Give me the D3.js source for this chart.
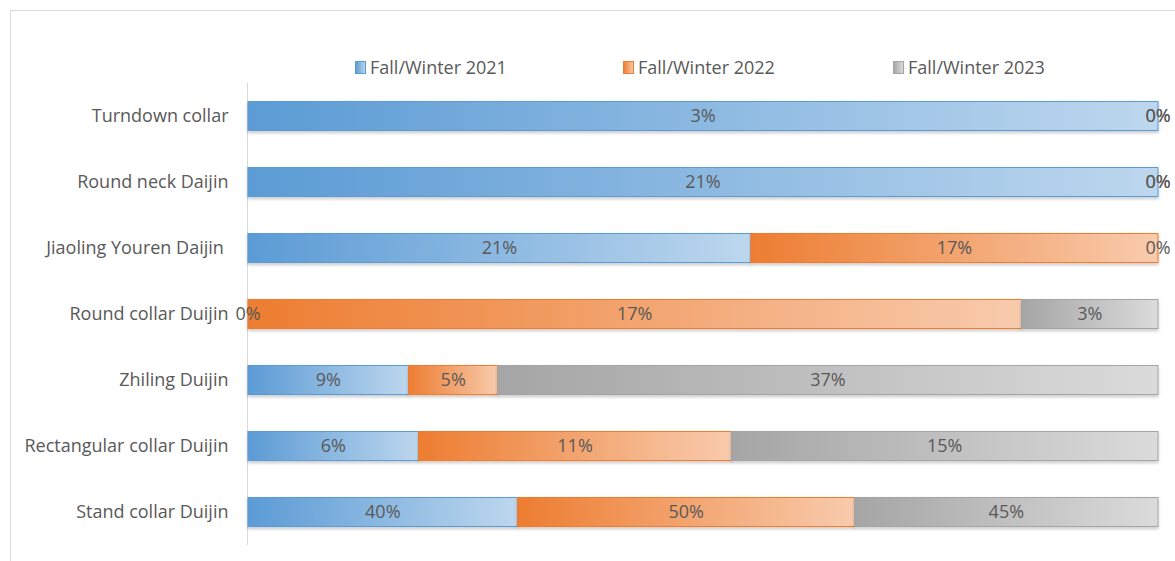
<!DOCTYPE html>
<html><head><meta charset="utf-8">
<script src="https://cdn.jsdelivr.net/npm/d3@7"></script>
<style>
html,body{margin:0;padding:0;background:#fff;}
text{font-family:"Open Sans","Noto Sans",sans-serif;}
</style></head>
<body><svg id="chart" width="1175" height="561"></svg>
<script>
const categories = ["Turndown collar","Round neck Daijin","Jiaoling Youren Daijin ","Round collar Duijin","Zhiling Duijin","Rectangular collar Duijin","Stand collar Duijin"];
const seriesNames = ["Fall/Winter 2021","Fall/Winter 2022","Fall/Winter 2023"];
const fw2021 = [3,21,21,0,9,6,40];
const fw2022 = [0,0,17,17,5,11,50];
const fw2023 = [0,0,0,3,37,15,45];
const seriesValues = [fw2021, fw2022, fw2023];
const colorsDark = ["#5B9BD5","#ED7D31","#A5A5A5"];
const colorsLight = ["#BDD7EE","#F8CBAD","#DBDBDB"];

const svg = d3.select("#chart");
const W = 1175, H = 561;
const margin = {left:248, right:17, top:83, bottom:16};
const FS = 18;

// frame
svg.append("rect").attr("x",10.5).attr("y",10.5).attr("width",W+10).attr("height",H+10)
  .attr("fill","none").attr("stroke","#d9d9d9");

const defs = svg.append("defs");
colorsDark.forEach((c,i)=>{
  const g = defs.append("linearGradient").attr("id","grad"+i).attr("x1","0").attr("x2","1").attr("y1","0").attr("y2","0");
  g.append("stop").attr("offset","0%").attr("stop-color",c);
  g.append("stop").attr("offset","100%").attr("stop-color",colorsLight[i]);
});
const f = defs.append("filter").attr("id","shadow").attr("x","-5%").attr("y","-20%").attr("width","110%").attr("height","160%");
f.append("feDropShadow").attr("dx",0).attr("dy",2).attr("stdDeviation",1.5).attr("flood-color","#000").attr("flood-opacity",0.22);

const x = d3.scaleLinear().domain([0,1]).range([margin.left, W-margin.right]);
const y = d3.scaleBand().domain(categories).range([margin.top, H-margin.bottom]).paddingInner(0.56).paddingOuter(0.28);

const table = categories.map((c,i)=>{ const o={cat:c}; seriesNames.forEach((s,j)=>o[s]=seriesValues[j][i]); return o; });
const stack = d3.stack().keys(seriesNames).offset(d3.stackOffsetExpand);
const stacked = stack(table);

// axis
const yAxis = d3.axisLeft(y).tickSize(0).tickPadding(19);
const ag = svg.append("g").attr("transform",`translate(${margin.left-0.5},0)`).call(yAxis);
ag.select(".domain").attr("stroke","#d9d9d9").attr("d",`M0,${margin.top}V${H-margin.bottom}`);
ag.selectAll("text").attr("font-size",FS).attr("fill","#595959").style("white-space","pre");

stacked.forEach((layer,j)=>{
  const g = svg.append("g");
  g.selectAll("rect").data(layer).join("rect")
    .attr("x",d=>x(d[0])).attr("y",d=>y(d.data.cat))
    .attr("width",d=>Math.max(0,x(d[1])-x(d[0]))).attr("height",y.bandwidth())
    .attr("fill",`url(#grad${j})`).attr("stroke",colorsDark[j]).attr("stroke-width",1)
    .attr("filter","url(#shadow)")
    .attr("visibility",d=>x(d[1])-x(d[0])>0.5?"visible":"hidden");
});
stacked.forEach((layer,j)=>{
  svg.append("g").selectAll("text").data(layer).join("text")
    .attr("x",d=>(x(d[0])+x(d[1]))/2).attr("y",d=>y(d.data.cat)+y.bandwidth()/2)
    .attr("dy","0.36em").attr("text-anchor","middle").attr("font-size",FS).attr("fill","#595959")
    .text(d=>d.data[seriesNames[j]]+"%");
});

// legend
const legendX = [355,623,893];
const lg = svg.append("g");
seriesNames.forEach((s,j)=>{
  lg.append("rect").attr("x",legendX[j]+0.5).attr("y",61.5).attr("width",10).attr("height",12)
    .attr("fill",`url(#grad${j})`).attr("stroke",colorsDark[j]);
  lg.append("text").attr("x",legendX[j]+15).attr("y",67.5).attr("dy","0.36em")
    .attr("font-size",FS).attr("fill","#595959").text(s);
});
</script></body></html>
